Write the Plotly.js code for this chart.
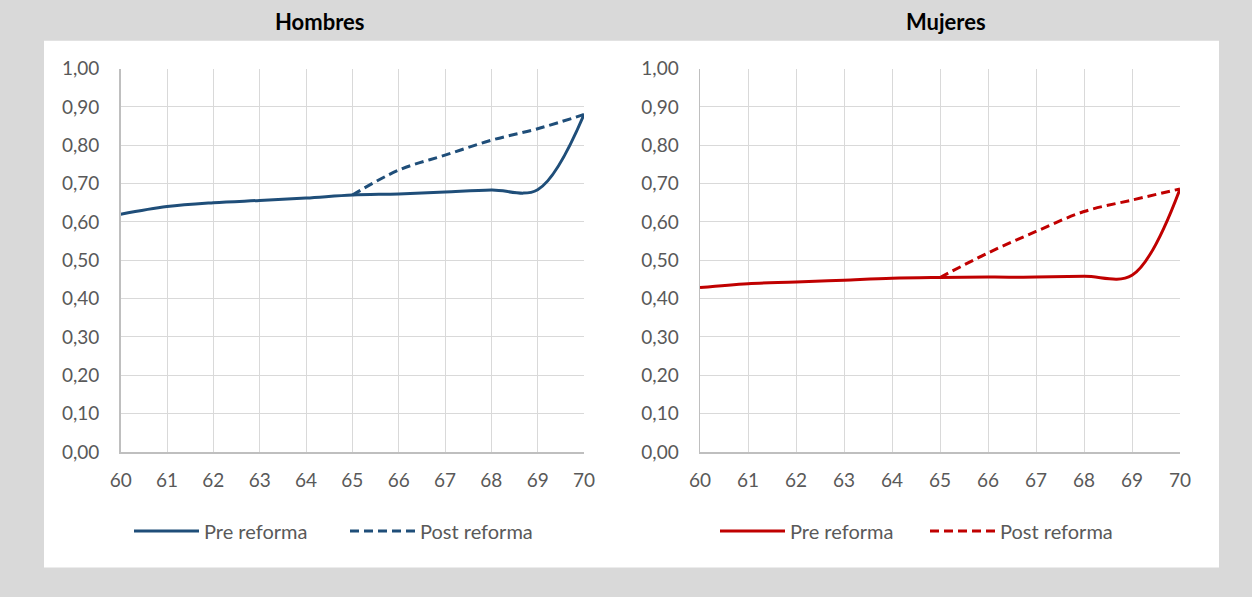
<!DOCTYPE html>
<html>
<head>
<meta charset="utf-8">
<script src="https://cdn.plot.ly/plotly-3.0.1.min.js"></script>
<style>html,body{margin:0;padding:0;background:#d9d9d9;}#chart{width:1252px;height:597px;}</style>
</head>
<body>
<div id="chart"></div>
<script>
var edades = [60, 61, 62, 63, 64, 65, 66, 67, 68, 69, 70];
var edadesPost = [65, 66, 67, 68, 69, 70];
var hombresPre = [0.620, 0.640, 0.650, 0.656, 0.662, 0.670, 0.673, 0.678, 0.683, 0.684, 0.880];
var hombresPost = [0.670, 0.735, 0.774, 0.813, 0.843, 0.880];
var mujeresPre = [0.429, 0.439, 0.443, 0.448, 0.453, 0.455, 0.456, 0.456, 0.458, 0.461, 0.686];
var mujeresPost = [0.455, 0.519, 0.575, 0.627, 0.657, 0.686];
var tickVals = [0, 0.1, 0.2, 0.3, 0.4, 0.5, 0.6, 0.7, 0.8, 0.9, 1.0];
var seriesNames = ['Pre reforma', 'Post reforma'];
var panelTitles = ['Hombres', 'Mujeres'];

var blue = '#1f4e79', red = '#c00000';
var FONT = 'Lato, "Open Sans", sans-serif';

function tr(x, y, name, color, dash, xa, ya, leg) {
  return {
    x: x, y: y, name: name, type: 'scatter', mode: 'lines',
    line: {color: color, width: 3, dash: dash, shape: 'spline', smoothing: 1},
    xaxis: xa, yaxis: ya, legend: leg, hoverinfo: 'skip'
  };
}

var data = [
  tr(edades, hombresPre, seriesNames[0], blue, 'solid', 'x', 'y', 'legend'),
  tr(edadesPost, hombresPost, seriesNames[1], blue, '9px,5px', 'x', 'y', 'legend'),
  tr(edades, mujeresPre, seriesNames[0], red, 'solid', 'x2', 'y2', 'legend2'),
  tr(edadesPost, mujeresPost, seriesNames[1], red, '9px,5px', 'x2', 'y2', 'legend2')
];

var W = 1252, H = 597;
function px(v) { return v / W; }
function py(v) { return 1 - v / H; }

function xax(d, anchor) {
  return {
    domain: d, anchor: anchor, range: [60, 70], tickvals: edades, ticks: '',
    showgrid: true, gridcolor: '#d9d9d9', gridwidth: 1,
    showline: true, linecolor: '#bfbfbf', linewidth: 1.5,
    zeroline: false, ticklabelstandoff: 11,
    tickfont: {family: FONT, size: 19, color: '#595959'}, fixedrange: true
  };
}
function yax(anchor) {
  return {
    domain: [py(452), py(68.5)], anchor: anchor, range: [0, 1], tickvals: tickVals,
    tickformat: '.2f', ticks: '',
    showgrid: true, gridcolor: '#d9d9d9', gridwidth: 1,
    showline: true, linecolor: '#bfbfbf', linewidth: 1.5,
    zeroline: false, ticklabelstandoff: 16,
    tickfont: {family: FONT, size: 19, color: '#595959'}, fixedrange: true
  };
}

function leg(xp, ew) {
  return {
    orientation: 'h', x: px(xp), xanchor: 'left', y: py(531), yanchor: 'middle',
    bgcolor: 'rgba(0,0,0,0)', font: {family: FONT, size: 20, color: '#595959'},
    itemwidth: 65, entrywidth: ew, entrywidthmode: 'pixels', tracegroupgap: 0
  };
}

var layout = {
  width: W, height: H,
  margin: {l: 0, r: 0, t: 0, b: 0},
  paper_bgcolor: '#d9d9d9', plot_bgcolor: '#ffffff',
  separators: ',.',
  showlegend: true,
  xaxis: xax([px(120.7), px(584)], 'y'),
  yaxis: yax('x'),
  xaxis2: xax([px(700), px(1180)], 'y2'),
  yaxis2: yax('x2'),
  legend: leg(129, 136),
  legend2: leg(715, 130),
  shapes: [{
    type: 'rect', xref: 'paper', yref: 'paper', layer: 'below',
    x0: px(44), x1: px(1219), y0: py(567.5), y1: py(40.7),
    fillcolor: '#ffffff', line: {width: 0}
  }],
  annotations: [
    {text: '<b>' + panelTitles[0] + '</b>', xref: 'paper', yref: 'paper', x: px(319), y: py(22),
     xanchor: 'center', yanchor: 'middle', showarrow: false, font: {family: FONT, size: 22, color: '#000000'}},
    {text: '<b>' + panelTitles[1] + '</b>', xref: 'paper', yref: 'paper', x: px(946), y: py(22),
     xanchor: 'center', yanchor: 'middle', showarrow: false, font: {family: FONT, size: 22, color: '#000000'}}
  ]
};

Plotly.newPlot('chart', data, layout, {displayModeBar: false, staticPlot: true});
</script>
</body>
</html>
